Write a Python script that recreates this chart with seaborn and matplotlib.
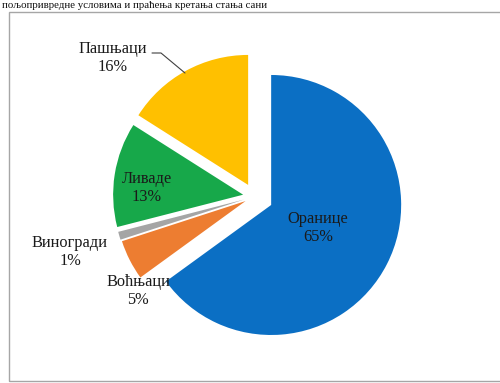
import matplotlib
matplotlib.use("Agg")
import matplotlib.pyplot as plt
import seaborn as sns

# data
categories = ["Оранице", "Воћњаци", "Виногради", "Ливаде", "Пашњаци"]
shares = [65, 5, 1, 13, 16]
colors_hex = ["#0B6FC4", "#ED7D31", "#A5A5A5", "#17A84A", "#FFC000"]

sns.set_theme(style="white")
plt.rcParams['font.family'] = ['Liberation Serif', 'DejaVu Serif']
palette = sns.color_palette(colors_hex)

W, H = 500, 383
fig = plt.figure(figsize=(5, 3.83), dpi=100)
ax = fig.add_axes([0, 0, 1, 1])

cx, cy = 254.5, H - 196.5
R = 130
explode = [18.7, 10.0, 10.8, 11.5, 13.2]  # offsets in pixels

ax.pie(shares, colors=palette, startangle=90, counterclock=False,
       center=(cx, cy), radius=R, explode=explode,
       wedgeprops=dict(linewidth=0))
ax.set_xlim(0, W)
ax.set_ylim(0, H)
ax.set_aspect('equal')
ax.axis('off')

# frame of the chart area
frame = plt.Rectangle((9, H - 381), 600, 369, fill=False,
                      edgecolor="#A6A6A6", linewidth=1.0)
ax.add_patch(frame)

# caption line at the top (partly hidden in the source)
ax.text(2, H - 1, "пољопривредне условима и праћења кретања стања сани",
        fontsize=7.8, color="#111111", va="top", ha="left")

label_pos = [(318, 228), (138, 291), (70, 252), (147, 188), (113, 58)]
fs = 11.8
for name, val, (x, y) in zip(categories, shares, label_pos):
    ax.text(x, H - y, f"{name}\n{val}%", ha="center", va="center",
            fontsize=fs, color="#1A1A1A", linespacing=1.1)

# leader line for Пашњаци
ax.plot([152, 161, 185], [H - 53, H - 53, H - 73], color="#404040", linewidth=0.8)

fig.savefig("out.png", dpi=100)
